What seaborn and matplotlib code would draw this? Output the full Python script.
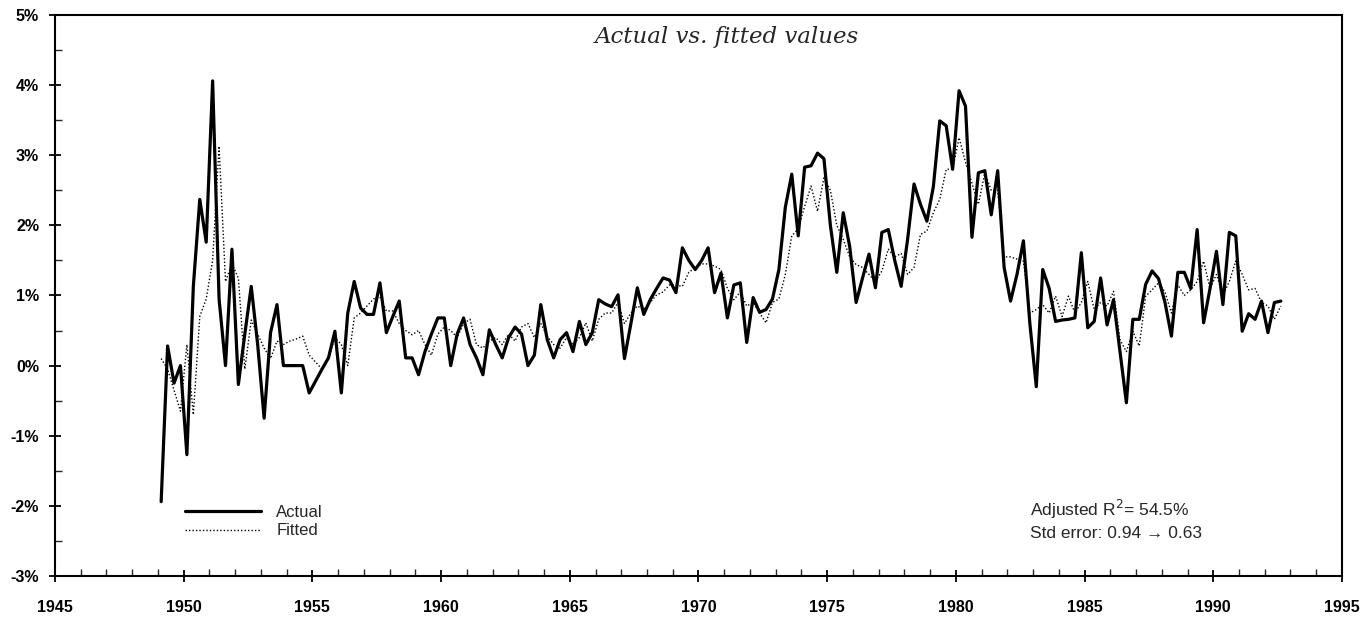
import numpy as np
import pandas as pd
import matplotlib.pyplot as plt
import seaborn as sns
from matplotlib.lines import Line2D
from matplotlib.ticker import MultipleLocator, FuncFormatter

# quarterly series, first quarter of 1949 onwards (values in %)
first_year = 1949

actual = [
    -1.94, 0.28, -0.25, 0.00, -1.27, 1.13, 2.37, 1.76, 4.06, 0.95,
    0.00, 1.66, -0.27, 0.45, 1.13, 0.30, -0.75, 0.47, 0.87, 0.00,
    0.00, 0.00, 0.00, -0.39, -0.22, -0.05, 0.11, 0.49, -0.39, 0.75,
    1.20, 0.82, 0.73, 0.73, 1.18, 0.47, 0.70, 0.92, 0.11, 0.11,
    -0.13, 0.20, 0.45, 0.68, 0.68, 0.00, 0.45, 0.68, 0.30, 0.11,
    -0.13, 0.51, 0.30, 0.11, 0.40, 0.55, 0.45, 0.00, 0.15, 0.87,
    0.37, 0.11, 0.37, 0.47, 0.20, 0.63, 0.30, 0.47, 0.94, 0.88,
    0.84, 1.01, 0.10, 0.60, 1.11, 0.73, 0.94, 1.10, 1.25, 1.22,
    1.04, 1.68, 1.50, 1.37, 1.50, 1.68, 1.04, 1.32, 0.68, 1.15,
    1.18, 0.33, 0.97, 0.76, 0.80, 0.95, 1.37, 2.26, 2.73, 1.85,
    2.83, 2.85, 3.03, 2.95, 2.00, 1.33, 2.18, 1.70, 0.90, 1.25,
    1.59, 1.11, 1.90, 1.94, 1.50, 1.13, 1.80, 2.59, 2.30, 2.06,
    2.55, 3.49, 3.42, 2.80, 3.92, 3.70, 1.83, 2.75, 2.78, 2.15,
    2.78, 1.40, 0.92, 1.30, 1.78, 0.60, -0.30, 1.37, 1.10, 0.63,
    0.65, 0.66, 0.68, 1.61, 0.54, 0.63, 1.25, 0.58, 0.94, 0.20,
    -0.53, 0.66, 0.66, 1.16, 1.35, 1.24, 0.90, 0.42, 1.33, 1.33,
    1.10, 1.94, 0.61, 1.10, 1.63, 0.87, 1.90, 1.85, 0.49, 0.74,
    0.66, 0.92, 0.47, 0.90, 0.92,
]

fitted = [
    0.10, -0.05, -0.35, -0.65, 0.30, -0.70, 0.70, 0.95, 1.50, 3.13,
    1.20, 1.45, 1.25, -0.05, 0.65, 0.45, 0.25, 0.10, 0.35, 0.30,
    0.35, 0.38, 0.42, 0.15, 0.05, -0.05, 0.10, 0.40, 0.30, 0.00,
    0.68, 0.75, 0.85, 0.95, 0.98, 0.78, 0.78, 0.60, 0.50, 0.44,
    0.50, 0.30, 0.15, 0.45, 0.55, 0.50, 0.40, 0.60, 0.66, 0.30,
    0.25, 0.35, 0.40, 0.30, 0.45, 0.35, 0.55, 0.60, 0.40, 0.60,
    0.42, 0.30, 0.25, 0.40, 0.30, 0.40, 0.61, 0.35, 0.66, 0.75,
    0.75, 0.90, 0.60, 0.75, 0.85, 0.80, 0.90, 1.01, 1.05, 1.15,
    1.15, 1.13, 1.33, 1.40, 1.45, 1.45, 1.42, 1.37, 1.10, 0.94,
    1.05, 0.85, 0.90, 0.75, 0.61, 0.90, 0.95, 1.30, 1.85, 1.95,
    2.27, 2.56, 2.20, 2.68, 2.50, 2.00, 1.80, 1.55, 1.44, 1.40,
    1.30, 1.20, 1.35, 1.66, 1.55, 1.60, 1.30, 1.40, 1.87, 1.92,
    2.18, 2.37, 2.80, 2.80, 3.25, 2.90, 2.60, 2.30, 2.75, 2.50,
    2.50, 1.55, 1.55, 1.52, 1.49, 0.75, 0.80, 0.87, 0.75, 0.99,
    0.70, 0.99, 0.75, 0.90, 1.20, 0.80, 0.90, 0.85, 1.06, 0.37,
    0.20, 0.49, 0.28, 0.99, 1.08, 1.18, 1.05, 0.75, 1.15, 1.00,
    1.08, 1.20, 1.49, 1.10, 1.30, 1.00, 1.20, 1.49, 1.30, 1.08,
    1.10, 0.90, 0.85, 0.66, 0.85,
]

stats_lines = ["Adjusted R$^2$= 54.5%", "Std error: 0.94 \u2192 0.63"]

n = len(actual)
date = first_year + 0.125 + 0.25 * np.arange(n)
df = pd.DataFrame({"date": date, "Actual": actual, "Fitted": fitted})

sns.set_style("ticks")
plt.rcParams['font.family'] = ['Liberation Sans', 'DejaVu Sans']

fig = plt.figure(figsize=(13.61, 6.17), dpi=100)
ax = fig.add_axes([0.0404, 0.0665, 0.9456, 0.9092])

sns.lineplot(data=df, x="date", y="Fitted", color="black", lw=1.0,
             linestyle=(0, (1, 1.5)), ax=ax)
sns.lineplot(data=df, x="date", y="Actual", color="black", lw=2.3, ax=ax)

ax.set_xlim(1945, 1995)
ax.set_ylim(-3, 5)
ax.set_xlabel("")
ax.set_ylabel("")

ax.xaxis.set_major_locator(MultipleLocator(5))
ax.xaxis.set_minor_locator(MultipleLocator(1))
ax.yaxis.set_major_locator(MultipleLocator(1))
ax.yaxis.set_minor_locator(MultipleLocator(0.5))
ax.yaxis.set_major_formatter(FuncFormatter(lambda v, p: f"{int(round(v))}%"))
ax.xaxis.set_major_formatter(FuncFormatter(lambda v, p: f"{int(round(v))}"))

ax.tick_params(which="major", direction="inout", length=9, width=1.3,
               labelsize=11.5, colors="black")
ax.tick_params(which="minor", direction="in", length=5, width=1.0)
for lab in ax.get_xticklabels() + ax.get_yticklabels():
    lab.set_fontweight("bold")
ax.tick_params(axis="y", pad=7)
ax.tick_params(axis="x", pad=13)

for s in ax.spines.values():
    s.set_visible(True)
    s.set_linewidth(1.5)
    s.set_color("black")

ax.text(0.522, 0.961, "Actual vs. fitted values", transform=ax.transAxes,
        ha="center", va="center", fontsize=16.5, style="italic",
        family=["DejaVu Serif"])

handles = [Line2D([], [], color="black", lw=2.3),
           Line2D([], [], color="black", lw=1.0, linestyle=(0, (1, 1.5)))]
ax.legend(handles, ["Actual", "Fitted"], loc="upper left",
          bbox_to_anchor=(0.089, 0.153), frameon=False, fontsize=12,
          handlelength=4.6, handletextpad=0.9, labelspacing=0.2)

ax.text(0.7576, 0.118, stats_lines[0], transform=ax.transAxes,
        ha="left", va="center", fontsize=12.5)
ax.text(0.7576, 0.076, stats_lines[1], transform=ax.transAxes,
        ha="left", va="center", fontsize=12.5)

fig.savefig("out.png", dpi=100, facecolor="white")
